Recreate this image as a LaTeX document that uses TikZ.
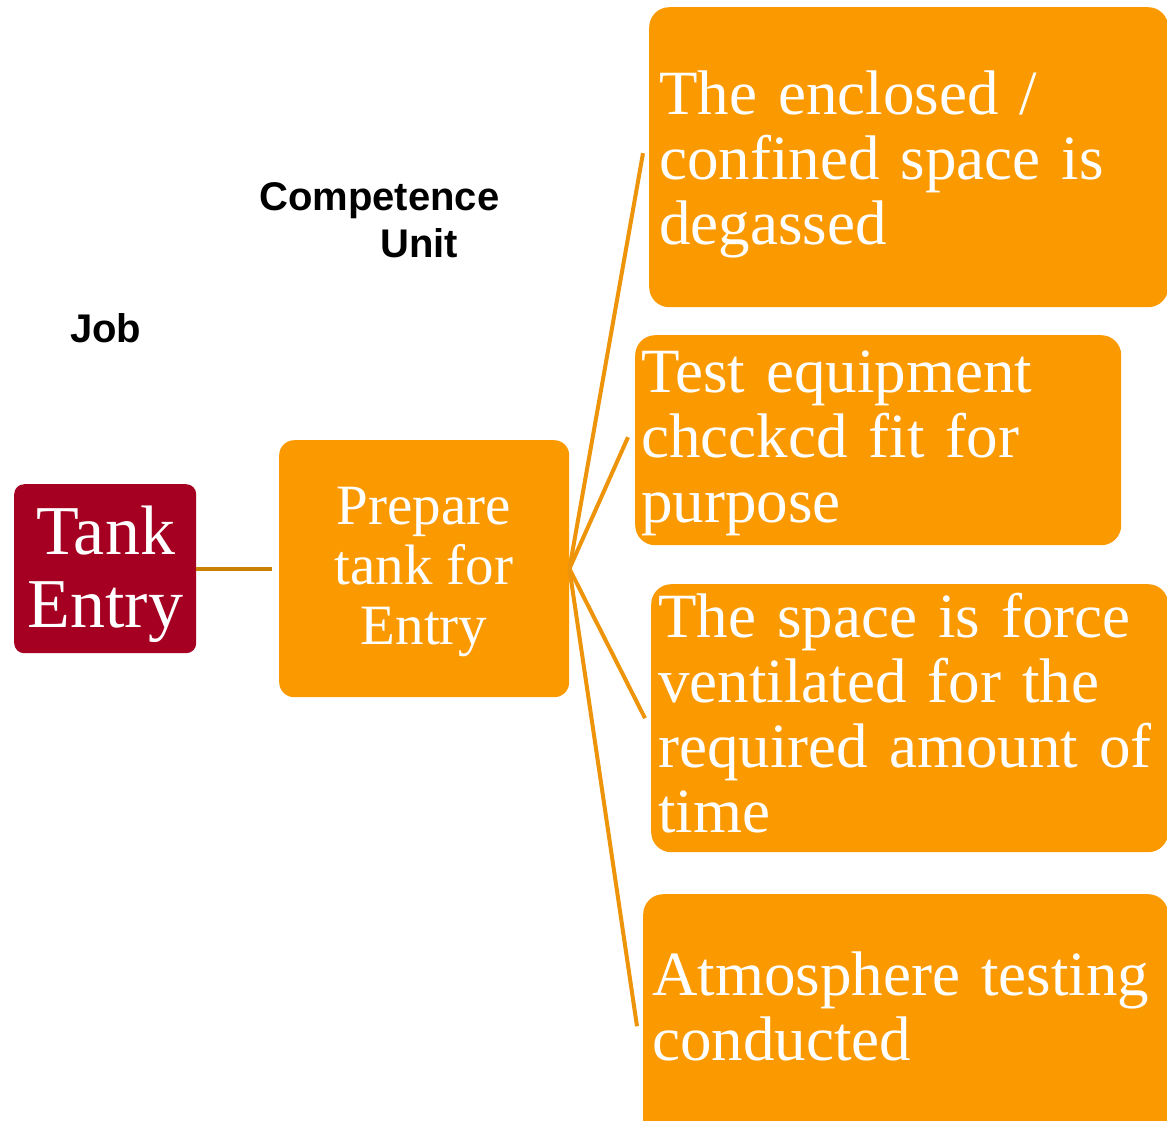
\documentclass[tikz,border=0pt]{standalone}
\usepackage{fontspec}
\setmainfont{Liberation Serif}
\newfontfamily\sanslab{Liberation Sans}
\definecolor{jobred}{HTML}{A50021}
\definecolor{boxorange}{HTML}{FB9A00}
\definecolor{lineorange}{HTML}{EE940A}
\definecolor{linebrown}{HTML}{C97F00}
\newcommand\boxtextfont{\fontsize{63}{65}\selectfont\spaceskip 21pt plus 6pt minus 6pt\relax}
\begin{document}
\begin{tikzpicture}[x=1pt,y=-1pt,
  jobbox/.style={fill=jobred, draw=none, rounded corners=10pt, inner sep=0pt, anchor=north west},
  obox/.style={fill=boxorange, draw=none, rounded corners=20pt, inner sep=0pt, anchor=north west},
  ubox/.style={fill=boxorange, draw=none, rounded corners=15pt, inner sep=0pt, anchor=north west},
  btext/.style={text=white, inner sep=0pt, anchor=west, align=left, font=\boxtextfont},
  conn/.style={draw=lineorange, line width=4pt},
  tconn/.style={draw=linebrown, line width=4pt},
  hdr/.style={inner sep=0pt, anchor=base west, font=\sanslab\bfseries\fontsize{40}{46}\selectfont}
]
\useasboundingbox (0,0) rectangle (1167,1120);
\fill[white] (0,0) rectangle (1167,1120);

% boxes
\node[jobbox, minimum width=182pt, minimum height=169pt] (tank) at (14,484) {};
\node[ubox, minimum width=290pt, minimum height=257pt] (prep) at (279,440) {};
\node[obox, minimum width=519pt, minimum height=300pt] (b1) at (649,7) {};
\node[obox, minimum width=486pt, minimum height=210pt] (b2) at (635,335) {};
\node[obox, minimum width=517pt, minimum height=268pt] (b3) at (651,584) {};
\node[obox, minimum width=525pt, minimum height=250pt] (b4) at (643,894) {};

% texts
\node[text=white, inner sep=0pt, align=center, font=\fontsize{70}{73}\selectfont] (tanktxt) at (105.5,574) {Tank\\Entry};
\node[text=white, inner sep=0pt, align=center, font=\fontsize{57}{60}\selectfont] (preptxt) at (424,571.5) {Prepare\\tank for\\Entry};
\node[btext] (t1) at (659,164) {The enclosed /\\confined space is\\degassed};
\node[btext] (t2) at (641,443.5) {Test equipment\\chcckcd fit for\\purpose};
\node[btext] (t3) at (658,713.5) {The space is force\\ventilated for the\\required amount of\\time};
\node[btext] (t4) at (652,1006) {Atmosphere testing\\conducted};

% headers
\node[hdr] (comp) at (259,210) {Competence};
\node[hdr] (unit) at (380,257) {Unit};
\node[hdr] (job) at (70,342) {Job};

% connectors
\draw[tconn] (tank.east) -- ([xshift=-7pt]prep.west);
\draw[conn] (prep.east) -- ([xshift=-6pt,yshift=4pt]b1.west);
\draw[conn] (prep.east) -- ([xshift=-7pt,yshift=3pt]b2.west);
\draw[conn] (prep.east) -- ([xshift=-6pt]b3.west);
\draw[conn] (prep.east) -- ([xshift=-6pt,yshift=-7pt]b4.west);
\end{tikzpicture}
\end{document}
